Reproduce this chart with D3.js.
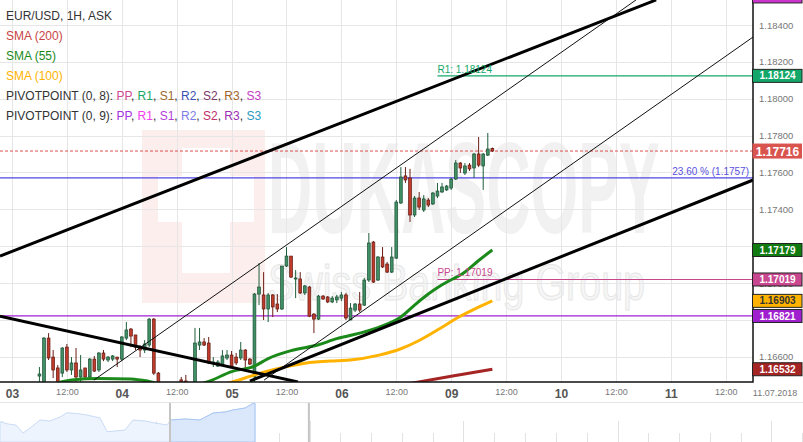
<!DOCTYPE html>
<html>
<head>
<meta charset="UTF-8">
<style>
	body { margin: 0; background: #fff; }
	svg { display: block; font-family: 'Liberation Sans', Arial, sans-serif; }
	.legend text { font-size: 12px; }
	.y-axis text { font-size: 9.5px; fill: #777; }
	.x-axis text { font-size: 9px; fill: #777; }
	.x-axis text.day { font-size: 12px; font-weight: bold; fill: #555; }
	.level-label { font-size: 10px; }
</style>
</head>
<body>
<svg id="chart" width="803" height="442"></svg>
<script src="https://d3js.org/d3.v7.min.js"></script>
<script>
	// hourly candles, hour index counted from 03.07 00:00 (weekend skipped)
	const candleHours = [6,7,8,9,10,11,12,13,14,15,16,17,18,19,20,21,22,23,24,25,26,27,28,29,30,31,32,37,38,
		40,41,42,43,44,45,46,47,48,49,50,51,52,53,54,55,56,57,58,59,60,61,62,63,64,65,66,67,68,69,70,71,72,
		73,74,75,76,77,78,79,80,81,82,83,84,85,86,87,88,89,90,91,92,93,94,95,96,97,98,99,100,101,102,103,104,105];
	const candleOpen = [1.16495,1.16430,1.16701,1.16598,1.16539,1.16511,1.16652,1.16528,1.16566,1.16490,1.16539,1.16490,1.16587,1.16528,1.16620,1.16582,1.16587,1.16598,1.16587,1.16701,1.16750,1.16718,1.16652,1.16636,1.16663,1.16804,1.16511,1.16474,1.16468,
		1.16410,1.16663,1.16680,1.16674,1.16566,1.16549,1.16555,1.16593,1.16609,1.16598,1.16593,1.16636,1.16587,1.16490,1.16940,1.16935,1.16859,1.16935,1.16886,1.16859,1.17092,1.17146,1.17022,1.17022,1.16946,1.16978,1.16831,1.16804,1.16929,1.16924,1.16897,1.16908,1.16918,
		1.16935,1.16799,1.16853,1.16886,1.16880,1.17016,1.17222,1.17016,1.17141,1.17103,1.17059,1.17135,1.17434,1.17581,1.17570,1.17369,1.17461,1.17396,1.17450,1.17429,1.17472,1.17494,1.17505,1.17515,1.17564,1.17651,1.17597,1.17640,1.17624,1.17700,1.17635,1.17694,1.17730];
	const candleHigh = [1.16544,1.16707,1.16728,1.16636,1.16555,1.16652,1.16669,1.16598,1.16647,1.16609,1.16539,1.16593,1.16604,1.16625,1.16636,1.16604,1.16609,1.16598,1.16712,1.16788,1.16756,1.16718,1.16663,1.16690,1.16810,1.16810,1.16517,1.16490,1.16501,
		1.16756,1.16756,1.16701,1.16707,1.16598,1.16582,1.16636,1.16636,1.16631,1.16620,1.16680,1.16641,1.16593,1.16946,1.17108,1.17059,1.16946,1.16940,1.16940,1.17092,1.17195,1.17146,1.17070,1.17059,1.16989,1.16984,1.16837,1.16935,1.16935,1.16929,1.16929,1.16935,1.16951,
		1.16946,1.16891,1.16891,1.16951,1.17027,1.17271,1.17228,1.17146,1.17195,1.17114,1.17195,1.17450,1.17629,1.17629,1.17619,1.17472,1.17494,1.17477,1.17461,1.17494,1.17543,1.17543,1.17532,1.17570,1.17667,1.17656,1.17651,1.17651,1.17705,1.17792,1.17705,1.17814,1.17735];
	const candleLow = [1.16446,1.16420,1.16582,1.16484,1.16420,1.16490,1.16517,1.16501,1.16463,1.16463,1.16484,1.16484,1.16517,1.16517,1.16576,1.16571,1.16576,1.16544,1.16576,1.16690,1.16652,1.16636,1.16598,1.16620,1.16652,1.16501,1.16410,1.16403,1.16392,
		1.16392,1.16636,1.16658,1.16560,1.16544,1.16544,1.16549,1.16582,1.16539,1.16555,1.16582,1.16539,1.16555,1.16452,1.16880,1.16799,1.16788,1.16815,1.16842,1.16853,1.17087,1.17027,1.16918,1.16940,1.16935,1.16815,1.16728,1.16799,1.16908,1.16891,1.16891,1.16891,1.16902,
		1.16799,1.16799,1.16842,1.16842,1.16875,1.17005,1.17000,1.17011,1.17081,1.17054,1.17054,1.17130,1.17429,1.17543,1.17331,1.17358,1.17396,1.17385,1.17412,1.17423,1.17461,1.17488,1.17499,1.17505,1.17559,1.17597,1.17586,1.17608,1.17570,1.17629,1.17505,1.17689,1.17711];
	const candleClose = [1.16506,1.16701,1.16593,1.16528,1.16430,1.16647,1.16528,1.16566,1.16490,1.16528,1.16490,1.16587,1.16522,1.16620,1.16587,1.16598,1.16604,1.16587,1.16707,1.16745,1.16712,1.16652,1.16636,1.16669,1.16804,1.16511,1.16420,1.16441,1.16430,
		1.16674,1.16680,1.16663,1.16566,1.16571,1.16571,1.16604,1.16609,1.16544,1.16566,1.16636,1.16582,1.16560,1.16940,1.16978,1.16859,1.16935,1.16870,1.16859,1.17092,1.17146,1.17032,1.17027,1.16946,1.16984,1.16820,1.16804,1.16929,1.16913,1.16897,1.16918,1.16924,1.16935,
		1.16810,1.16864,1.16886,1.16853,1.17016,1.17217,1.17005,1.17141,1.17087,1.17059,1.17141,1.17439,1.17575,1.17559,1.17369,1.17461,1.17412,1.17456,1.17423,1.17488,1.17499,1.17521,1.17526,1.17564,1.17651,1.17624,1.17635,1.17619,1.17700,1.17640,1.17700,1.17727,1.17716];

	// moving averages
	const sma55Hours = [10,13,19,26,30,34,39,43,48,53,56,61,67,71,73,80,85,88,91,94,99,102,105];
	const sma55Values = [1.16458,1.16474,1.16482,1.16479,1.16466,1.16445,1.16440,1.16466,1.16519,1.16549,1.16590,1.16633,1.16665,1.16698,1.16710,1.16758,1.16815,1.16880,1.16940,1.16990,1.17060,1.17122,1.17179];
	const sma100Hours = [44,48,52,55,60,64,71,74,80,85,89,94,97,101,105];
	const sma100Values = [1.16440,1.16462,1.16493,1.16516,1.16546,1.16564,1.16578,1.16582,1.16607,1.16643,1.16688,1.16760,1.16806,1.16857,1.16903];
	const sma200Hours = [86,96,105];
	const sma200Values = [1.16450,1.16494,1.16532];

	// drawn trend lines [hour, price] -> [hour, price]
	const thickLines = [
		[[-2.62, 1.17146], [140.8, 1.18536]],
		[[52, 1.16468], [162, 1.17559]],
		[[-2.62, 1.16820], [62.5, 1.16463]]
	];
	const thinLines = [
		[[17.9, 1.16473], [136.4, 1.18536]],
		[[55.1, 1.16473], [162, 1.18335]]
	];

	const lastPrice = 1.17716;
	const fibLevel = 1.1757, fibText = "23.60 % (1.1757)";
	const purpleLevel = 1.16821;
	const r1Level = 1.18124, ppLevel = 1.17019, pivotStartHour = 93;

	const tagValues = [1.18555, 1.18124, 1.17716, 1.17179, 1.17019, 1.16903, 1.16821, 1.16532];
	const tagColors = ["#cc33cc", "#13a86a", "#d9534f", "#117a11", "#c8488f", "#ffb300", "#a020d0", "#a52424"];

	const dayLabels = ["03", "04", "05", "06", "09", "10", "11"];
	const yTickValues = [1.166, 1.168, 1.170, 1.172, 1.174, 1.176, 1.178, 1.180, 1.182, 1.184];

	const pivotNames = ["PP", "R1", "S1", "R2", "S2", "R3", "S3"];
	const pivot8Colors = ["#d04a93", "#17a865", "#9c6a2c", "#3a4fb0", "#7a3a6a", "#a0642c", "#c43cc4"];
	const pivot9Colors = ["#a534e0", "#f040f0", "#b040d8", "#7c7ce8", "#c0306a", "#9a2fb0", "#2a9ac0"];

	// navigator overview
	const navDays = [-0.05,0.21,0.47,0.70,0.93,1.25,1.57,1.90,2.13,2.55,2.78,3.20,3.43,3.69,4.01,4.27,4.66,4.98,5.37,5.50,5.96,6.44,6.87,7.26,7.52,7.91,8.17,8.23];
	const navPrices = [1.16523,1.16350,1.16275,1.15675,1.16050,1.16650,1.16575,1.16875,1.17198,1.17100,1.17025,1.16800,1.15773,1.15825,1.15900,1.16650,1.16575,1.16425,1.16275,1.16650,1.16725,1.16650,1.17175,1.17250,1.17400,1.17550,1.17903,1.17903];
	const navSelStart = 5.47, navSelEnd = 9.98;

	let svg = d3.select("#chart");
	const plotW = 753, plotH = 382;

	let x = d3.scaleLinear().domain([-2.62, 161.97]).range([0, plotW]);
	let y = d3.scaleLinear().domain([1.166, 1.184]).range([356.7, 25]);

	let defs = svg.append("defs");
	defs.append("clipPath").attr("id", "plot-clip")
		.append("rect").attr("width", plotW).attr("height", plotH);

	// watermark
	let wm = svg.append("g").attr("clip-path", "url(#plot-clip)");
	wm.append("rect").attr("x", 142).attr("y", 130).attr("width", 123).attr("height", 173).attr("fill", "#fdeeee");
	wm.append("rect").attr("x", 182).attr("y", 148).attr("width", 48).attr("height", 125).attr("fill", "#fff");
	wm.append("rect").attr("x", 158).attr("y", 176).attr("width", 96).attr("height", 46).attr("fill", "#fff");
	wm.append("text").attr("x", 268).attr("y", 233)
		.attr("textLength", 392).attr("lengthAdjust", "spacingAndGlyphs")
		.style("font-size", "130px").style("font-weight", "bold")
		.attr("fill", "#f1f1f1").text("DUKASCOPY");
	wm.append("text").attr("x", 268).attr("y", 300)
		.attr("textLength", 377).attr("lengthAdjust", "spacingAndGlyphs")
		.style("font-size", "50px")
		.attr("fill", "#f6f6f6").attr("stroke", "#e6e6e6").attr("stroke-width", 1)
		.text("Swiss Banking Group");

	// grid
	let xTicks = d3.range(0, 162, 12);
	let grid = svg.append("g").attr("stroke", "#e6e6e6").attr("stroke-width", 1);
	grid.selectAll(".gx").data(xTicks).join("line")
		.attr("x1", d => Math.round(x(d)) + 0.5).attr("x2", d => Math.round(x(d)) + 0.5)
		.attr("y1", 0).attr("y2", plotH);
	grid.selectAll(".gy").data(yTickValues).join("line")
		.attr("x1", 0).attr("x2", plotW)
		.attr("y1", d => Math.round(y(d)) + 0.5).attr("y2", d => Math.round(y(d)) + 0.5);

	let plot = svg.append("g").attr("clip-path", "url(#plot-clip)");

	// horizontal levels
	plot.append("line").attr("x1", 0).attr("x2", plotW).attr("y1", y(fibLevel)).attr("y2", y(fibLevel))
		.attr("stroke", "#4f46e5").attr("stroke-width", 1.2);
	plot.append("line").attr("x1", 0).attr("x2", plotW).attr("y1", y(purpleLevel)).attr("y2", y(purpleLevel))
		.attr("stroke", "#a020d0").attr("stroke-width", 1.2);
	plot.append("line").attr("x1", x(pivotStartHour)).attr("x2", plotW).attr("y1", y(r1Level)).attr("y2", y(r1Level))
		.attr("stroke", "#13a86a").attr("stroke-width", 1.2);
	plot.append("line").attr("x1", x(pivotStartHour)).attr("x2", plotW).attr("y1", y(ppLevel)).attr("y2", y(ppLevel))
		.attr("stroke", "#c8488f").attr("stroke-width", 1.2);
	plot.append("line").attr("x1", 0).attr("x2", plotW).attr("y1", y(lastPrice)).attr("y2", y(lastPrice))
		.attr("stroke", "#d9534f").attr("stroke-width", 1).attr("stroke-dasharray", "3,2");

	let labels = svg.append("g");
	labels.append("text").attr("class", "level-label").attr("x", x(pivotStartHour)).attr("y", y(r1Level) - 3)
		.attr("fill", "#13a86a").text("R1: " + r1Level.toFixed(5));
	labels.append("text").attr("class", "level-label").attr("x", x(pivotStartHour)).attr("y", y(ppLevel) - 3)
		.attr("fill", "#c8488f").text("PP: " + ppLevel.toFixed(5));
	labels.append("text").attr("class", "level-label").attr("x", 749).attr("y", y(fibLevel) - 3)
		.attr("text-anchor", "end").attr("fill", "#5a50e0").text(fibText);

	// candles
	let candles = candleHours.map((h, i) => ({h: h, o: candleOpen[i], hi: candleHigh[i], lo: candleLow[i], c: candleClose[i]}));
	let cg = plot.append("g").selectAll("g").data(candles).join("g");
	cg.append("line")
		.attr("x1", d => x(d.h)).attr("x2", d => x(d.h))
		.attr("y1", d => y(d.hi)).attr("y2", d => y(d.lo))
		.attr("stroke", d => d.c >= d.o ? "#1e5e3a" : "#6a1d14").attr("stroke-width", 1);
	cg.append("rect")
		.attr("x", d => x(d.h) - 1.4).attr("width", 2.8)
		.attr("y", d => y(Math.max(d.o, d.c)))
		.attr("height", d => Math.max(1, y(Math.min(d.o, d.c)) - y(Math.max(d.o, d.c))))
		.attr("fill", d => d.c >= d.o ? "#3f9065" : "#c23b2a")
		.attr("stroke", d => d.c >= d.o ? "#1e4d33" : "#5c1a12").attr("stroke-width", 0.7);

	// moving averages
	let smaLine = d3.line().curve(d3.curveMonotoneX).x(d => x(d[0])).y(d => y(d[1]));
	plot.append("path").attr("d", smaLine(d3.zip(sma200Hours, sma200Values)))
		.attr("fill", "none").attr("stroke", "#a52424").attr("stroke-width", 3);
	plot.append("path").attr("d", smaLine(d3.zip(sma100Hours, sma100Values)))
		.attr("fill", "none").attr("stroke", "#ffb300").attr("stroke-width", 3);
	plot.append("path").attr("d", smaLine(d3.zip(sma55Hours, sma55Values)))
		.attr("fill", "none").attr("stroke", "#1b8a1b").attr("stroke-width", 3);

	// trend lines
	plot.selectAll(".thin").data(thinLines).join("line")
		.attr("x1", d => x(d[0][0])).attr("y1", d => y(d[0][1]))
		.attr("x2", d => x(d[1][0])).attr("y2", d => y(d[1][1]))
		.attr("stroke", "#111").attr("stroke-width", 1);
	plot.selectAll(".thick").data(thickLines).join("line")
		.attr("x1", d => x(d[0][0])).attr("y1", d => y(d[0][1]))
		.attr("x2", d => x(d[1][0])).attr("y2", d => y(d[1][1]))
		.attr("stroke", "#000").attr("stroke-width", 3);

	// axes
	let yAxis = svg.append("g").attr("class", "y-axis")
		.attr("transform", "translate(" + plotW + ",0)")
		.call(d3.axisRight(y).tickValues(yTickValues).tickSize(0).tickPadding(6).tickFormat(d3.format(".5f")));
	yAxis.select(".domain").remove();

	let xAxis = svg.append("g").attr("class", "x-axis")
		.attr("transform", "translate(0," + plotH + ")")
		.call(d3.axisBottom(x).tickValues(xTicks).tickSize(0).tickPadding(7)
			.tickFormat(d => d % 24 === 0 ? dayLabels[d / 24] : "12:00"));
	xAxis.select(".domain").remove();
	xAxis.selectAll("text").classed("day", d => d % 24 === 0);
	svg.append("text").attr("x", 775).attr("y", 396).attr("text-anchor", "middle")
		.style("font-size", "9px").attr("fill", "#777").text("11.07.2018");

	svg.append("path").attr("d", "M0," + plotH + "H" + plotW + "V0")
		.attr("fill", "none").attr("stroke", "#111").attr("stroke-width", 1.5);

	// price tags on the right axis
	let tags = svg.append("g").selectAll("g").data(tagValues).join("g")
		.attr("transform", d => "translate(752," + y(d) + ")");
	tags.append("rect")
		.attr("x", 0.5)
		.attr("y", d => d === lastPrice ? -7.5 : -6.5)
		.attr("width", 49.5)
		.attr("height", d => d === lastPrice ? 15 : 13)
		.attr("fill", (d, i) => tagColors[i])
		.attr("stroke", d => d === lastPrice ? "none" : "#222").attr("stroke-width", 1);
	tags.append("text")
		.attr("x", 25.5).attr("y", d => d === lastPrice ? 4.5 : 3.6)
		.attr("text-anchor", "middle")
		.style("font-size", d => d === lastPrice ? "12px" : "10px").style("font-weight", "bold")
		.attr("fill", (d, i) => tagColors[i] === "#ffb300" ? "#333" : "#fff")
		.text(d => d.toFixed(5));

	// legend
	let legendLines = [
		[["EUR/USD, 1H, ASK", "#333"]],
		[["SMA (200)", "#c84444"]],
		[["SMA (55)", "#1b8a1b"]],
		[["SMA (100)", "#ffb300"]],
		[["PIVOTPOINT (0, 8): ", "#333"]].concat(pivotNames.flatMap((n, i) => i ? [[", ", "#333"], [n, pivot8Colors[i]]] : [[n, pivot8Colors[i]]])),
		[["PIVOTPOINT (0, 9): ", "#333"]].concat(pivotNames.flatMap((n, i) => i ? [[", ", "#333"], [n, pivot9Colors[i]]] : [[n, pivot9Colors[i]]]))
	];
	let legend = svg.append("g").attr("class", "legend");
	legendLines.forEach((parts, i) => {
		let t = legend.append("text").attr("x", 6).attr("y", 20 + i * 20);
		parts.forEach(p => t.append("tspan").attr("fill", p[1]).text(p[0]));
	});

	// navigator
	let navX = d3.scaleLinear().domain([0, 1]).range([1.5, 32.3]);
	let navY = d3.scaleLinear().domain([1.15, 1.18]).range([442, 402]);
	let nav = svg.append("g");
	nav.append("line").attr("x1", 0).attr("x2", 803).attr("y1", 402.5).attr("y2", 402.5).attr("stroke", "#e4e4e4");
	nav.selectAll(".nt").data(d3.range(0, 27)).join("line")
		.attr("x1", d => Math.round(navX(d)) + 0.5).attr("x2", d => Math.round(navX(d)) + 0.5)
		.attr("y1", d => d % 5 === 0 ? 421 : 433).attr("y2", 442)
		.attr("stroke", "#e2e2e2");
	let navArea = d3.area().x(d => navX(d[0])).y0(442).y1(d => navY(d[1]));
	let navPts = d3.zip(navDays, navPrices);
	nav.append("path").attr("d", navArea(navPts)).attr("fill", "#eef4fd").attr("stroke", "#c9dbf6");
	defs.append("clipPath").attr("id", "nav-sel")
		.append("rect").attr("x", navX(navSelStart)).attr("y", 402).attr("width", navX(navSelEnd) - navX(navSelStart)).attr("height", 40);
	nav.append("path").attr("d", navArea(navPts)).attr("clip-path", "url(#nav-sel)")
		.attr("fill", "#dbe8fb").attr("stroke", "#a9c7f2");
	nav.selectAll(".handle").data([navSelStart, navSelEnd]).join("rect")
		.attr("x", d => navX(d) - 1).attr("y", 403).attr("width", 2).attr("height", 39)
		.attr("fill", "#c4c4c4");
</script>
</body>
</html>
